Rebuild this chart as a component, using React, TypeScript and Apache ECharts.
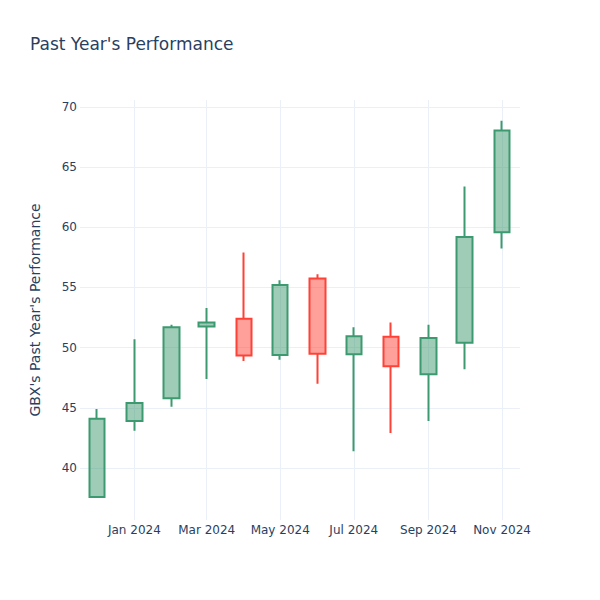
import React, { useEffect, useRef } from "react";
import * as echarts from "echarts";

const months: string[] = [
  "2023-12-01", "2024-01-01", "2024-02-01", "2024-03-01", "2024-04-01", "2024-05-01",
  "2024-06-01", "2024-07-01", "2024-08-01", "2024-09-01", "2024-10-01", "2024-11-01",
];
const opens: number[] = [37.6, 43.9, 45.8, 51.75, 52.4, 49.4, 55.75, 49.45, 50.9, 47.8, 50.4, 59.6];
const closes: number[] = [44.1, 45.4, 51.7, 52.1, 49.35, 55.2, 49.5, 50.95, 48.45, 50.8, 59.2, 68.05];
const lows: number[] = [37.5, 43.1, 45.1, 47.4, 48.9, 49.0, 47.0, 41.4, 42.9, 43.9, 48.2, 58.25];
const highs: number[] = [44.9, 50.7, 51.9, 53.3, 57.9, 55.6, 56.1, 51.7, 52.1, 51.9, 63.4, 68.85];

const xTickDates: string[] = ["2024-01-01", "2024-03-01", "2024-05-01", "2024-07-01", "2024-09-01", "2024-11-01"];
const monthNames: string[] = ["Jan", "Feb", "Mar", "Apr", "May", "Jun", "Jul", "Aug", "Sep", "Oct", "Nov", "Dec"];
const yTicks: number[] = [40, 45, 50, 55, 60, 65, 70];

const DAY = 86400000;
const ts = (s: string) => {
  const [y, m, d] = s.split("-").map(Number);
  return Date.UTC(y, m - 1, d);
};

export default function App() {
  const ref = useRef<HTMLDivElement>(null);
  useEffect(() => {
    if (!ref.current) return;
    document.body.style.margin = "0";
    const chart = echarts.init(ref.current, undefined, { renderer: "svg" });
    const data = months.map((m, i) => [ts(m), opens[i], closes[i], lows[i], highs[i]]);
    const textColor = "#2a3f5f";
    const font = "DejaVu Sans";
    chart.setOption({
      animation: false,
      backgroundColor: "#ffffff",
      textStyle: { fontFamily: font },
      title: {
        text: "Past Year's Performance",
        left: 25,
        top: 30,
        textStyle: { fontFamily: font, fontSize: 17, fontWeight: "normal", color: textColor },
      },
      grid: { left: 80, right: 80, top: 100, bottom: 80 },
      xAxis: {
        type: "value",
        min: ts(months[0]) - 14.1 * DAY,
        max: ts(months[months.length - 1]) + 14.9 * DAY,
        axisLine: { show: false },
        axisTick: { show: false, customValues: xTickDates.map(ts) },
        axisLabel: {
          customValues: xTickDates.map(ts),
          margin: 4,
          fontSize: 12,
          fontFamily: font,
          color: textColor,
          formatter: (v: number) => {
            const d = new Date(v);
            return monthNames[d.getUTCMonth()] + " " + d.getUTCFullYear();
          },
        },
        splitLine: { show: true, lineStyle: { color: "#EBF0F8", width: 1 } },
      },
      yAxis: {
        type: "value",
        min: 35.68,
        max: 70.58,
        name: "GBX's Past Year's Performance",
        nameLocation: "middle",
        nameGap: 38,
        nameTextStyle: { fontFamily: font, fontSize: 14, color: textColor },
        axisLine: { show: false },
        axisTick: { show: false, customValues: yTicks },
        axisLabel: { customValues: yTicks, margin: 3, fontSize: 12, fontFamily: font, color: textColor },
        splitLine: { show: true, lineStyle: { color: "#EBF0F8", width: 1 } },
      },
      series: [
        {
          type: "candlestick",
          barWidth: 16,
          encode: { x: 0, y: [1, 2, 3, 4] },
          data,
          itemStyle: {
            color: "rgba(61,153,112,0.5)",
            color0: "rgba(255,65,54,0.5)",
            borderColor: "#3D9970",
            borderColor0: "#FF4136",
            borderWidth: 2,
          },
        },
      ],
    });
    return () => chart.dispose();
  }, []);
  return <div ref={ref} style={{ width: 600, height: 600 }} />;
}
